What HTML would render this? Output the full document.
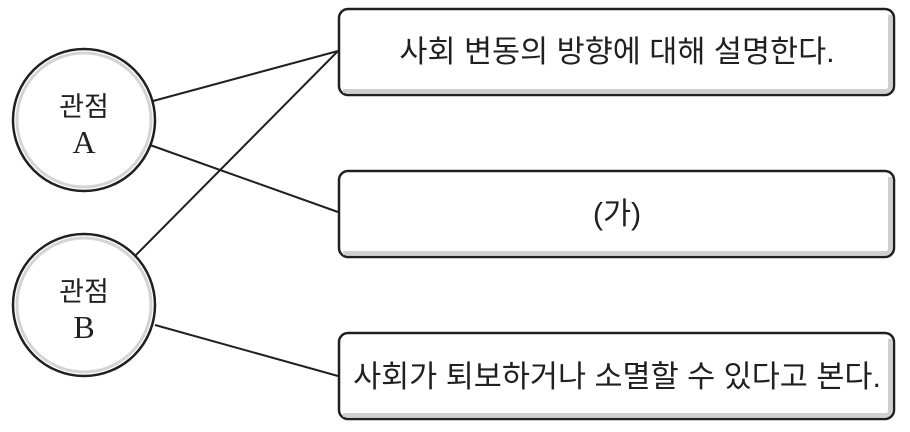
<!DOCTYPE html>
<html><head><meta charset="utf-8"><style>
body{margin:0;background:#fff;}
</style></head><body>
<svg width="910" height="427" viewBox="0 0 910 427" xmlns="http://www.w3.org/2000/svg">
<g stroke="#231f20" stroke-width="2" fill="none">
<line x1="153" y1="101" x2="338" y2="51"/>
<line x1="150" y1="145" x2="338" y2="212"/>
<line x1="135" y1="256" x2="338" y2="51"/>
<line x1="155" y1="325" x2="338" y2="376"/>
</g>
<g>
<circle cx="84" cy="120" r="71" fill="#fff" stroke="#231f20" stroke-width="2.5"/>
<circle cx="84" cy="120" r="67" fill="none" stroke="#d4d4d4" stroke-width="3"/>
<circle cx="84" cy="305" r="71" fill="#fff" stroke="#231f20" stroke-width="2.5"/>
<circle cx="84" cy="305" r="67" fill="none" stroke="#d4d4d4" stroke-width="3"/>
</g>
<g>
<rect x="339" y="9" width="555" height="86" rx="9" fill="#fff" stroke="#231f20" stroke-width="2.5"/>
<path d="M343 91 H886 Q890 91 890 86 V15" fill="none" stroke="#cfcfcf" stroke-width="4"/>
<rect x="339" y="171" width="555" height="86" rx="9" fill="#fff" stroke="#231f20" stroke-width="2.5"/>
<path d="M343 253 H886 Q890 253 890 248 V177" fill="none" stroke="#cfcfcf" stroke-width="4"/>
<rect x="339" y="333" width="555" height="86" rx="9" fill="#fff" stroke="#231f20" stroke-width="2.5"/>
<path d="M343 415 H886 Q890 415 890 410 V339" fill="none" stroke="#cfcfcf" stroke-width="4"/>
</g>
<g fill="#231f20" font-family="'Liberation Sans','Noto Sans CJK KR',sans-serif" text-anchor="middle">
<text x="84" y="116" font-size="27">관점</text>
<text x="84" y="153" font-size="32" font-family="'Liberation Serif',serif">A</text>
<text x="84" y="301" font-size="27">관점</text>
<text x="84" y="338" font-size="32" font-family="'Liberation Serif',serif">B</text>
<text x="617" y="62" font-size="30.5">사회 변동의 방향에 대해 설명한다.</text>
<text x="617" y="224" font-size="30.5">(가)</text>
<text x="617" y="387" font-size="30.5">사회가 퇴보하거나 소멸할 수 있다고 본다.</text>
</g>
</svg>
</body></html>
